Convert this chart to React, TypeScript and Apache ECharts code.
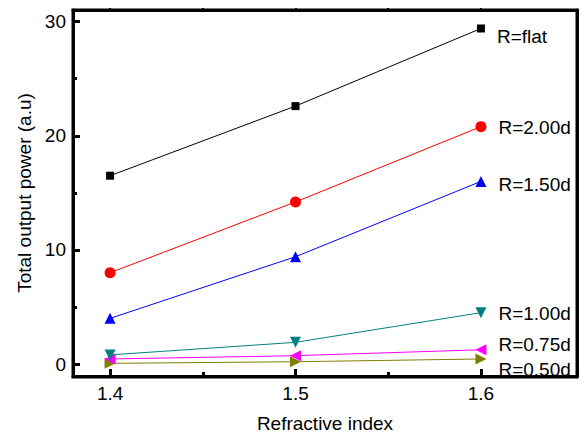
import React, { useEffect, useRef } from "react";
import * as echarts from "echarts";

const xValues = [1.4, 1.5, 1.6];
const seriesNames = ["R=flat", "R=2.00d", "R=1.50d", "R=1.00d", "R=0.75d", "R=0.50d"];
const flat = [16.5, 22.6, 29.4];
const r200 = [8.0, 14.2, 20.8];
const r150 = [4.0, 9.4, 16.0];
const r100 = [0.8, 1.9, 4.5];
const r075 = [0.44, 0.73, 1.25];
const r050 = [0.06, 0.2, 0.44];
const xMajorTicks = [1.4, 1.5, 1.6];
const xMinorTicks = [1.45, 1.55];
const xAllTicks = [1.4, 1.45, 1.5, 1.55, 1.6];
const yMajorTicks = [0, 10, 20, 30];
const yMinorTicks = [5, 15, 25];
const yAllTicks = [0, 5, 10, 15, 20, 25, 30];

const allValues = [flat, r200, r150, r100, r075, r050];
const colors = ["#000000", "#ff0000", "#0000ff", "#008080", "#ff00ff", "#808000"];
const symbols = ["rect", "circle", "triangle", "triangle", "triangle", "triangle"];
const rotations = [0, 0, 0, 180, 90, -90];
const sizes = [8, 11, 11, 11, 11, 11];
const labelOffsets = [[0, 8], [0, 1], [0, 3], [0, 1], [0, -5], [0, 11]];

const FONT = "Arial, 'Liberation Sans', sans-serif";

export default function App() {
  const ref = useRef<HTMLDivElement>(null);
  useEffect(() => {
    if (!ref.current) return;
    const chart = echarts.init(ref.current, null, { renderer: "svg" });
    const xMin = 1.38;
    const xMax = 1.6518;
    const yMin = -1.05;
    const yMax = 31.02;
    const lineW = 3;
    const series = allValues.map((vals, i) => ({
      type: "line",
      name: seriesNames[i],
      xAxisIndex: 0,
      yAxisIndex: 0,
      symbol: symbols[i],
      symbolSize: sizes[i],
      symbolRotate: rotations[i],
      itemStyle: { color: colors[i] },
      lineStyle: { color: colors[i], width: 1 },
      z: 10 - i,
      data: vals.map((v, j) => {
        const item: any = { value: [xValues[j], v] };
        if (j === vals.length - 1) {
          item.label = {
            show: true,
            position: "right",
            distance: 12,
            offset: labelOffsets[i],
            formatter: seriesNames[i],
            color: "#000",
            fontSize: 19,
            fontFamily: FONT,
          };
        }
        return item;
      }),
    }));
    const line = { show: true, onZero: false, lineStyle: { color: "#000", width: lineW } };
    const noLine = { show: false, onZero: false };
    chart.setOption({
      animation: false,
      backgroundColor: "#ffffff",
      grid: { left: 73, right: 8, top: 10, bottom: 61 },
      graphic: [
        { type: "rect", shape: { x: 73, y: 10, width: 504, height: 367 }, style: { stroke: "#000", fill: "none", lineWidth: lineW }, z: 100, silent: true },
      ],
      xAxis: [
        {
          type: "value",
          position: "bottom",
          min: xMin,
          max: xMax,
          axisLine: line,
          axisTick: { show: true, inside: true, length: 7, lineStyle: { color: "#000", width: lineW }, customValues: xMajorTicks },
          axisLabel: {
            show: true,
            customValues: xMajorTicks,
            formatter: (v: number) => v.toFixed(1),
            color: "#000",
            fontSize: 19,
            fontFamily: FONT,
            margin: 8,
          },
          splitLine: { show: false },
          name: "Refractive index",
          nameLocation: "middle",
          nameGap: 38,
          nameTextStyle: { color: "#000", fontSize: 19, fontFamily: FONT },
        },
        {
          type: "value",
          position: "bottom",
          min: xMin,
          max: xMax,
          axisLine: noLine,
          axisTick: { show: true, inside: true, length: 4, lineStyle: { color: "#000", width: lineW }, customValues: xMinorTicks },
          axisLabel: { show: false },
          splitLine: { show: false },
        },
        {
          type: "value",
          position: "top",
          min: xMin,
          max: xMax,
          axisLine: line,
          axisTick: { show: true, inside: false, length: 2, lineStyle: { color: "#000", width: 2 }, customValues: xAllTicks },
          axisLabel: { show: false },
          splitLine: { show: false },
        },
      ],
      yAxis: [
        {
          type: "value",
          position: "left",
          min: yMin,
          max: yMax,
          axisLine: line,
          axisTick: { show: true, inside: true, length: 7, lineStyle: { color: "#000", width: lineW }, customValues: yMajorTicks },
          axisLabel: {
            show: true,
            customValues: yMajorTicks,
            color: "#000",
            fontSize: 19,
            fontFamily: FONT,
            margin: 7,
          },
          splitLine: { show: false },
          name: "Total output power (a.u)",
          nameLocation: "middle",
          nameGap: 38,
          nameTextStyle: { color: "#000", fontSize: 19, fontFamily: FONT },
        },
        {
          type: "value",
          position: "left",
          min: yMin,
          max: yMax,
          axisLine: noLine,
          axisTick: { show: true, inside: true, length: 4, lineStyle: { color: "#000", width: lineW }, customValues: yMinorTicks },
          axisLabel: { show: false },
          splitLine: { show: false },
        },
        {
          type: "value",
          position: "right",
          min: yMin,
          max: yMax,
          axisLine: line,
          axisTick: { show: true, inside: false, length: 2, lineStyle: { color: "#000", width: 2 }, customValues: yAllTicks },
          axisLabel: { show: false },
          splitLine: { show: false },
        },
      ],
      series,
    });
    return () => chart.dispose();
  }, []);
  return (
    <div
      ref={ref}
      style={{ position: "fixed", left: 0, top: 0, width: 585, height: 438, background: "#fff" }}
    />
  );
}
